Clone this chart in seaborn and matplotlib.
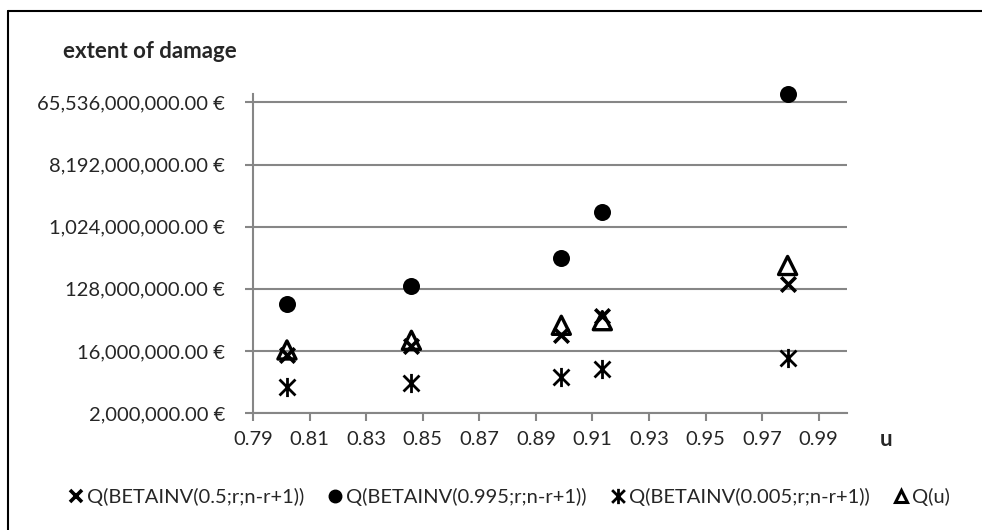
import matplotlib
matplotlib.use("Agg")
import matplotlib.pyplot as plt
import matplotlib.ticker as mticker
from matplotlib.path import Path
from matplotlib.lines import Line2D
import seaborn as sns

# data
u = [0.802, 0.846, 0.899, 0.9135, 0.979]
q_median = [13.8e6, 19.0e6, 27.0e6, 52.0e6, 152e6]
q_upper = [76e6, 142e6, 356e6, 1.68e9, 86e9]
q_lower = [4.8e6, 5.5e6, 6.7e6, 8.6e6, 12.4e6]
q_u = [16.5e6, 22.8e6, 37.7e6, 44e6, 279e6]

y_ticks = [2e6, 16e6, 128e6, 1.024e9, 8.192e9, 65.536e9]
x_ticks = [0.79, 0.81, 0.83, 0.85, 0.87, 0.89, 0.91, 0.93, 0.95, 0.97, 0.99]

labels = [
    "Q(BETAINV(0.5;r;n-r+1))",
    "Q(BETAINV(0.995;r;n-r+1))",
    "Q(BETAINV(0.005;r;n-r+1))",
    "Q(u)",
]

sns.set_style("white")
plt.rcParams["font.family"] = ["Lato", "DejaVu Sans"]
FS = 14.5

GRID = "#868686"

# X with a vertical stroke, like the spreadsheet "star" marker
star = Path(
    [(-1, -1), (1, 1), (-1, 1), (1, -1), (0, -1.2), (0, 1.2)],
    [Path.MOVETO, Path.LINETO, Path.MOVETO, Path.LINETO, Path.MOVETO, Path.LINETO],
)

fig = plt.figure(figsize=(9.82, 5.30), dpi=100)
ax = fig.add_axes([253 / 982, 1 - 413 / 530, (847 - 253) / 982, (413 - 94) / 530])

sns.scatterplot(x=u, y=q_median, marker="x", s=110, color="black",
                linewidth=2.6, ax=ax, zorder=3, clip_on=False)
sns.scatterplot(x=u, y=q_upper, marker="o", s=150, color="black",
                linewidth=0, ax=ax, zorder=3, clip_on=False)
sns.scatterplot(x=u, y=q_lower, marker=star, s=190, color="black", edgecolor="black",
                linewidth=2.0, ax=ax, zorder=3, clip_on=False)
ax.scatter(u, q_u, marker="^", s=170, facecolors="none", edgecolors="black",
           linewidths=2.4, zorder=4, clip_on=False)

ax.set_yscale("log", base=8)
ax.set_ylim(2e6, 65.536e9 * 8 ** 0.135)
ax.set_xlim(0.79, 1.0)
ax.set_yticks(y_ticks)
ax.yaxis.set_minor_locator(mticker.NullLocator())
ax.yaxis.set_major_formatter(mticker.FuncFormatter(lambda v, p: f"{v:,.2f} €"))
ax.set_xticks(x_ticks)
ax.set_xticklabels([f"{t:.2f}" for t in x_ticks])

ax.grid(axis="y", color=GRID, linewidth=1.5)
ax.grid(axis="x", visible=False)
for side in ["top", "right"]:
    ax.spines[side].set_visible(False)
for side in ["left", "bottom"]:
    ax.spines[side].set_color(GRID)
    ax.spines[side].set_linewidth(1.5)
ax.tick_params(axis="both", direction="out", length=6, width=1.5, color=GRID,
               labelsize=FS, left=True, bottom=True)
ax.tick_params(axis="y", pad=14)
ax.tick_params(axis="x", pad=7)

fig.text(150 / 982, 1 - 52 / 530, "extent of damage", ha="center", va="center",
         fontsize=16, fontweight="bold")
fig.text(886 / 982, 1 - 440 / 530, "u", ha="center", va="center",
         fontsize=16, fontweight="bold")

handles = [
    Line2D([], [], marker="x", color="black", linestyle="none", markersize=9, markeredgewidth=2.6),
    Line2D([], [], marker="o", color="black", linestyle="none", markersize=9),
    Line2D([], [], marker=star, color="black", linestyle="none", markersize=11, markeredgewidth=2.0),
    Line2D([], [], marker="^", color="black", markerfacecolor="none", linestyle="none",
           markersize=9, markeredgewidth=2.2),
]
fig.legend(handles, labels, loc="center", bbox_to_anchor=(509 / 982, 1 - 497 / 530), ncol=4,
           frameon=False, handletextpad=0.15, columnspacing=1.15, handlelength=0.8,
           fontsize=FS)

# chart-area border (cut at right and bottom in the original)
fig.add_artist(Line2D([7.5 / 982, 7.5 / 982], [0, 1 - 10.5 / 530], transform=fig.transFigure,
                      color="black", linewidth=1.5))
fig.add_artist(Line2D([7.5 / 982, 1], [1 - 10.5 / 530, 1 - 10.5 / 530], transform=fig.transFigure,
                      color="black", linewidth=1.5))

fig.savefig("out.png", dpi=100)
